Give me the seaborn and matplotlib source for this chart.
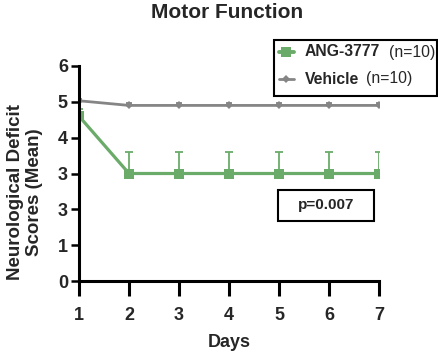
import matplotlib
matplotlib.use("Agg")
import matplotlib.pyplot as plt
import seaborn as sns
import pandas as pd
import numpy as np
from matplotlib.lines import Line2D
from matplotlib.patches import Rectangle

days = [1, 2, 3, 4, 5, 6, 7]
ang = [4.6, 3.0, 3.0, 3.0, 3.0, 3.0, 3.0]
ang_err = [0.2, 0.6, 0.6, 0.6, 0.6, 0.6, 0.6]
veh = [5.03, 4.9, 4.9, 4.9, 4.9, 4.9, 4.9]
veh_err = [0.05, 0.08, 0.08, 0.08, 0.08, 0.08, 0.08]
ytick_vals = [0, 1, 2, 3, 4, 5, 6]
ytick_labels = ["0", "1", "3", "3", "4", "5", "6"]
groups = ["ANG-3777", "Vehicle"]
n_labels = ["(n=10)", "(n=10)"]

sns.set_style("white")
plt.rcParams["font.family"] = ["Liberation Sans", "DejaVu Sans"]

green = "#6aab6a"
grey = "#858585"

df = pd.DataFrame({
    "Days": days * 2,
    "Score": ang + veh,
    "Group": [groups[0]] * 7 + [groups[1]] * 7,
})

W, H = 439, 353
fig = plt.figure(figsize=(W / 100, H / 100), dpi=100)
ax = fig.add_axes([79 / W, 1 - 281 / H, 300 / W, 215 / H])

ax.errorbar(days, ang, yerr=[np.zeros(7), ang_err], fmt="none", ecolor=green,
            elinewidth=1.3, capsize=2.8, capthick=1.3, zorder=2)
ax.errorbar(days, veh, yerr=[np.zeros(7), veh_err], fmt="none", ecolor=grey,
            elinewidth=1.3, capsize=2.5, capthick=1.3, zorder=2)

sns.lineplot(data=df, x="Days", y="Score", hue="Group", style="Group",
             palette={groups[0]: green, groups[1]: grey},
             markers={groups[0]: "s", groups[1]: "D"},
             dashes=False, linewidth=2.3, ax=ax, legend=False, zorder=3)
ax.lines[-2].set_markersize(7)
ax.lines[-1].set_markersize(4.5)
ax.lines[-1].set_linewidth(2)
for ln in ax.lines[-2:]:
    ln.set_markeredgewidth(0)

ax.set_xlim(1, 7)
ax.set_ylim(0, 6)
ax.set_xticks(days)
ax.set_yticks(ytick_vals)
ax.set_yticklabels(ytick_labels)
for lab in ax.get_xticklabels() + ax.get_yticklabels():
    lab.set_fontweight("bold")
    lab.set_fontsize(13)
ax.tick_params(axis="x", direction="out", length=11, width=2.2, color="black",
               bottom=True, pad=8)
ax.tick_params(axis="y", direction="out", length=6, width=1.8, color="black",
               left=True, pad=2)
for side in ["top", "right"]:
    ax.spines[side].set_visible(False)
for side in ["left", "bottom"]:
    ax.spines[side].set_linewidth(2.2)
    ax.spines[side].set_color("black")
ax.spines["left"].set_zorder(5)

ax.set_ylabel("")
ax.set_xlabel("Days", fontsize=13, fontweight="bold", labelpad=7)
fig.text(25 / W, 1 - 192 / H, "Neurological Deficit\nScores (Mean)", rotation=90,
         ha="center", va="center", multialignment="center", fontsize=13.5,
         fontweight="bold", linespacing=1.1)
fig.text(227 / W, 1 - 13 / H, "Motor Function", ha="center", va="center",
         fontsize=15, fontweight="bold")

ax.add_patch(Rectangle((4.98, 1.67), 1.92, 0.87, fill=False, ec="black", lw=1.5,
                       zorder=4, clip_on=False))
ax.text(5.94, 2.11, "p=0.007", ha="center", va="center", fontsize=11,
        fontweight="bold", zorder=5)

# legend drawn manually in figure pixels
fig.add_artist(Rectangle((274 / W, 1 - 96 / H), 163 / W, 56 / H,
                         transform=fig.transFigure, fill=False, ec="black", lw=1.5))
rows_y = [52, 79]
styles = [dict(color=green, marker="s", markersize=7, lw=2.8),
          dict(color=grey, marker="D", markersize=4.5, lw=2)]
gaps = [9, 7]
name_texts = []
for g, yy, st in zip(groups, rows_y, styles):
    fig.add_artist(Line2D([279 / W, 294 / W], [1 - yy / H] * 2, transform=fig.transFigure,
                          color=st["color"], lw=st["lw"]))
    fig.add_artist(Line2D([286.5 / W], [1 - yy / H], transform=fig.transFigure,
                          color=st["color"], marker=st["marker"],
                          markersize=st["markersize"], markeredgewidth=0, lw=0))
    name_texts.append(fig.text(305 / W, 1 - yy / H, g, ha="left", va="center",
                               fontsize=11.3, fontweight="bold"))

fig.canvas.draw()
r = fig.canvas.get_renderer()
for t, nl, gp in zip(name_texts, n_labels, gaps):
    e = t.get_window_extent(r)
    fig.text((e.x1 + gp) / W, t.get_position()[1], nl,
             ha="left", va="center", fontsize=11.3)

fig.savefig("out.png", dpi=100)
